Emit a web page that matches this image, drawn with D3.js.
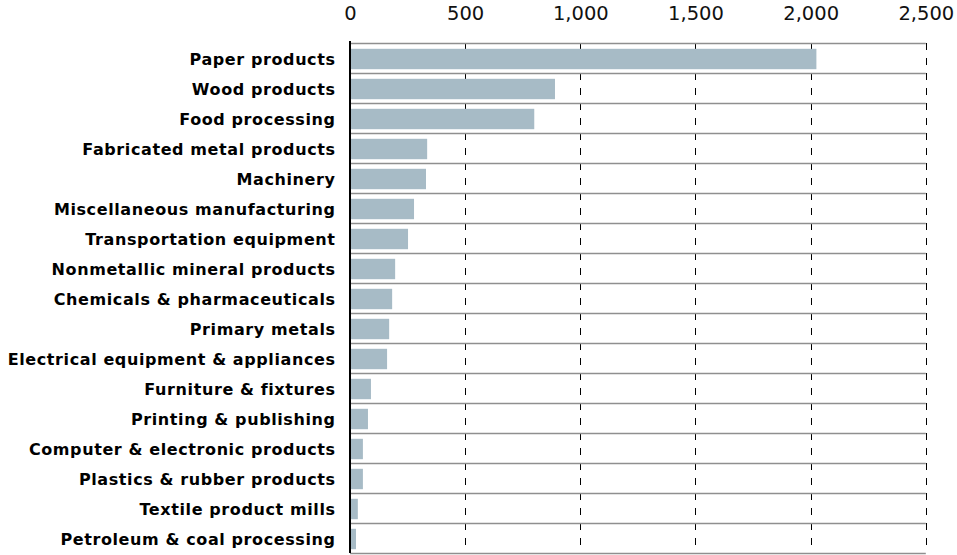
<!DOCTYPE html>
<html>
<head>
<meta charset="utf-8">
<script src="https://cdn.jsdelivr.net/npm/d3@7"></script>
<style>
  html, body { margin: 0; padding: 0; background: #fff; }
  svg { display: block; }
</style>
</head>
<body>
<div id="chart"></div>
<script>
const categories = [
  "Paper products",
  "Wood products",
  "Food processing",
  "Fabricated metal products",
  "Machinery",
  "Miscellaneous manufacturing",
  "Transportation equipment",
  "Nonmetallic mineral products",
  "Chemicals & pharmaceuticals",
  "Primary metals",
  "Electrical equipment & appliances",
  "Furniture & fixtures",
  "Printing & publishing",
  "Computer & electronic products",
  "Plastics & rubber products",
  "Textile product mills",
  "Petroleum & coal processing"
];
const values = [2025, 890, 800, 335, 330, 278, 252, 196, 183, 170, 161, 91, 78, 56, 56, 34, 26];
const tickValues = [0, 500, 1000, 1500, 2000, 2500];

const W = 957, H = 555;
const margin = {left: 350, top: 43};
const svg = d3.select("#chart").append("svg").attr("width", W).attr("height", H);

const x = d3.scaleLinear().domain([0, 2500]).range([margin.left, 925.8]);
const y = d3.scaleBand().domain(categories).range([margin.top, margin.top + 510])
  .paddingInner(0.32).paddingOuter(0.16);
const step = y.step();

// vertical dashed gridlines
svg.append("g").selectAll("line").data(tickValues.slice(1)).join("line")
  .attr("x1", d => Math.round(x(d)) + 0.5).attr("x2", d => Math.round(x(d)) + 0.5)
  .attr("y1", margin.top).attr("y2", margin.top + 510)
  .attr("stroke", "#000").attr("stroke-width", 1)
  .attr("stroke-dasharray", "7,8");

// horizontal row separators
const seps = categories.map(c => y(c) - step * y.paddingInner() / 2);
seps.push(margin.top + 510);
svg.append("g").selectAll("line").data(seps).join("line")
  .attr("x1", x(0)).attr("x2", x(2500))
  .attr("y1", d => Math.round(d) + 0.5).attr("y2", d => Math.round(d) + 0.5)
  .attr("stroke", "#8f8f8f").attr("stroke-width", 1.3);

// bars
svg.append("g").selectAll("rect").data(values).join("rect")
  .attr("x", x(0))
  .attr("y", (d, i) => y(categories[i]) + 1)
  .attr("width", d => x(d) - x(0))
  .attr("height", y.bandwidth())
  .attr("fill", "#a7bbc6");

// y axis line
svg.append("line")
  .attr("x1", x(0)).attr("x2", x(0))
  .attr("y1", margin.top - 2).attr("y2", margin.top + 510)
  .attr("stroke", "#000").attr("stroke-width", 2);

// category labels
svg.append("g").selectAll("text").data(categories).join("text")
  .attr("x", 335.6)
  .attr("y", d => y(d) + y.bandwidth() / 2 + 1)
  .attr("dy", "0.36em")
  .attr("text-anchor", "end")
  .attr("font-family", "DejaVu Sans, Verdana, sans-serif")
  .attr("font-weight", "bold")
  .attr("font-size", "16px")
  .attr("letter-spacing", "0.6px")
  .attr("fill", "#000")
  .text(d => d);

// top axis
const xAxis = d3.axisTop(x).tickValues(tickValues).tickFormat(d3.format(","))
  .tickSize(0).tickPadding(23);
const gx = svg.append("g").attr("transform", `translate(0,${margin.top})`).call(xAxis);
gx.select(".domain").remove();
gx.selectAll("text")
  .attr("font-family", "DejaVu Sans, Verdana, sans-serif")
  .attr("font-size", "19.5px")
  .attr("fill", "#111");
</script>
</body>
</html>
